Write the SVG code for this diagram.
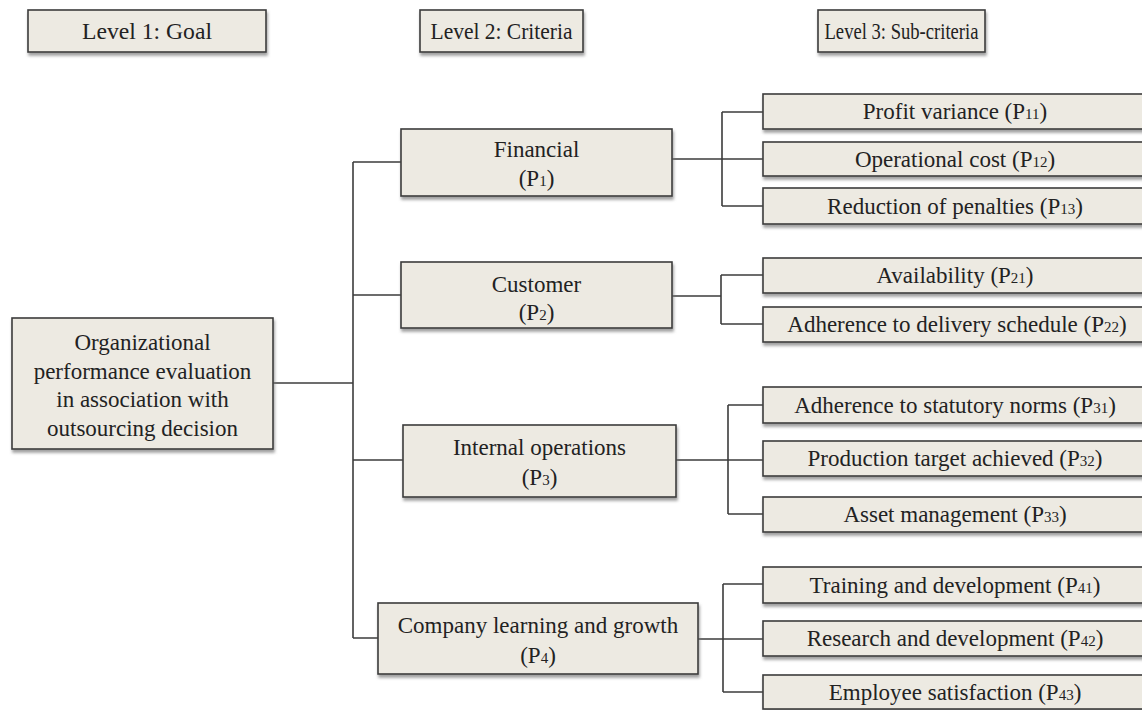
<svg xmlns="http://www.w3.org/2000/svg" width="1142" height="710" viewBox="0 0 1142 710">
<style>
.box{fill:#edeae2;stroke:#3c3c3c;stroke-width:1.6;filter:url(#sh)}
.t{font-family:"Liberation Serif","Times New Roman",serif;font-size:23px;fill:#222;text-anchor:middle}
.s{font-size:15px}
.c{stroke:#3c3c3c;stroke-width:1.6;fill:none}
</style>
<defs>
<filter id="sh" x="-5%" y="-20%" width="110%" height="150%">
<feDropShadow dx="1" dy="3" stdDeviation="1.8" flood-color="#777" flood-opacity="0.7"/>
</filter>
</defs>
<rect width="1142" height="710" fill="#fff"/>
<g id="connectors" class="c">
<path d="M273 383H353"/>
<path d="M353 162V638"/>
<path d="M353 162H401M353 295H401M353 460H403M353 638H378"/>
<path d="M672 159H763M722 112V206M722 112H763M722 206H763"/>
<path d="M672 296H721M721 275V324M721 275H763M721 324H763"/>
<path d="M676 460H763M728 405V514M728 405H763M728 514H763"/>
<path d="M698 639H763M723 584V692M723 584H763M723 692H763"/>
</g>
<g id="h1"><rect class="box" x="28" y="10" width="238" height="42"/><text class="t" x="147" y="39" textLength="130" lengthAdjust="spacingAndGlyphs">Level 1: Goal</text></g>
<g id="h2"><rect class="box" x="420" y="10" width="163" height="42"/><text class="t" x="501.5" y="39" textLength="142" lengthAdjust="spacingAndGlyphs">Level 2: Criteria</text></g>
<g id="h3"><rect class="box" x="818" y="10" width="167" height="42"/><text class="t" x="901.5" y="39" textLength="154" lengthAdjust="spacingAndGlyphs">Level 3: Sub-criteria</text></g>
<g id="goal"><rect class="box" x="12" y="318" width="261" height="131"/>
<text class="t" x="142.5" y="350">Organizational</text>
<text class="t" x="142.5" y="379">performance evaluation</text>
<text class="t" x="142.5" y="407">in association with</text>
<text class="t" x="142.5" y="436">outsourcing decision</text></g>
<g id="p1"><rect class="box" x="401" y="129" width="271" height="67"/><text class="t" x="536.5" y="157">Financial</text><text class="t" x="536.5" y="186">(P<tspan class="s">1</tspan>)</text></g>
<g id="p2"><rect class="box" x="401" y="262" width="271" height="66"/><text class="t" x="536.5" y="292">Customer</text><text class="t" x="536.5" y="320">(P<tspan class="s">2</tspan>)</text></g>
<g id="p3"><rect class="box" x="403" y="425" width="273" height="72"/><text class="t" x="539.5" y="455">Internal operations</text><text class="t" x="539.5" y="485">(P<tspan class="s">3</tspan>)</text></g>
<g id="p4"><rect class="box" x="378" y="603" width="320" height="71"/><text class="t" x="538" y="633">Company learning and growth</text><text class="t" x="538" y="663">(P<tspan class="s">4</tspan>)</text></g>
<g id="p11"><rect class="box" x="763" y="94" width="385" height="35"/><text class="t" x="955" y="119">Profit variance (P<tspan class="s">11</tspan>)</text></g>
<g id="p12"><rect class="box" x="763" y="142" width="385" height="34"/><text class="t" x="955" y="167">Operational cost (P<tspan class="s">12</tspan>)</text></g>
<g id="p13"><rect class="box" x="763" y="188" width="385" height="36"/><text class="t" x="955" y="214">Reduction of penalties (P<tspan class="s">13</tspan>)</text></g>
<g id="p21"><rect class="box" x="763" y="258" width="385" height="35"/><text class="t" x="955" y="283">Availability (P<tspan class="s">21</tspan>)</text></g>
<g id="p22"><rect class="box" x="763" y="307" width="385" height="35"/><text class="t" x="957" y="332">Adherence to delivery schedule (P<tspan class="s">22</tspan>)</text></g>
<g id="p31"><rect class="box" x="763" y="387" width="385" height="36"/><text class="t" x="955" y="413">Adherence to statutory norms (P<tspan class="s">31</tspan>)</text></g>
<g id="p32"><rect class="box" x="763" y="441" width="385" height="35"/><text class="t" x="955" y="466">Production target achieved (P<tspan class="s">32</tspan>)</text></g>
<g id="p33"><rect class="box" x="763" y="497" width="385" height="35"/><text class="t" x="955" y="522">Asset management (P<tspan class="s">33</tspan>)</text></g>
<g id="p41"><rect class="box" x="763" y="567" width="385" height="36"/><text class="t" x="955" y="593">Training and development (P<tspan class="s">41</tspan>)</text></g>
<g id="p42"><rect class="box" x="763" y="621" width="385" height="35"/><text class="t" x="955" y="646">Research and development (P<tspan class="s">42</tspan>)</text></g>
<g id="p43"><rect class="box" x="763" y="675" width="385" height="34"/><text class="t" x="955" y="700">Employee satisfaction (P<tspan class="s">43</tspan>)</text></g>
</svg>
